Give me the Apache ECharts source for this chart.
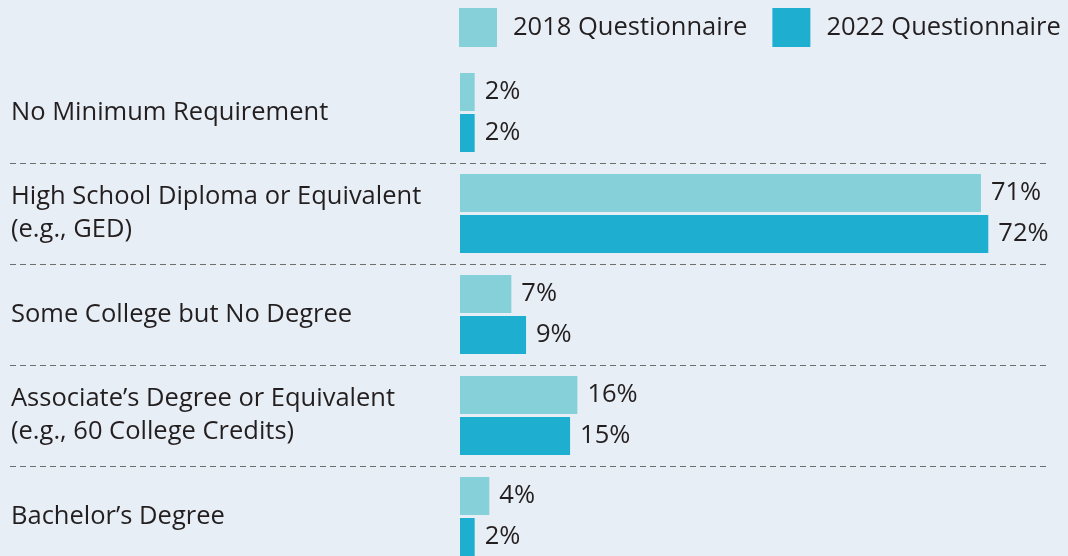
<!DOCTYPE html>
<html>
<head>
<meta charset="utf-8">
<script src="https://cdn.jsdelivr.net/npm/echarts@6/dist/echarts.min.js"></script>
<style>
html,body{margin:0;padding:0;background:#e8eef5;}
#chart{width:1068px;height:556px;}
</style>
</head>
<body>
<div id="chart"></div>
<script>
const categories = [
  "No Minimum Requirement",
  "High School Diploma or Equivalent\n(e.g., GED)",
  "Some College but No Degree",
  "Associate’s Degree or Equivalent\n(e.g., 60 College Credits)",
  "Bachelor’s Degree"
];
const seriesNames = ["2018 Questionnaire", "2022 Questionnaire"];
const values2018 = [2, 71, 7, 16, 4];
const values2022 = [2, 72, 9, 15, 2];

const FONT = "Open Sans";
const FS = 25.5;
const TEXT = "#231f20";
const colors = ["#86d1d9", "#1eafd0"];

const chart = echarts.init(document.getElementById('chart'));
const labelCfg = {
  show: true,
  position: 'right',
  distance: 10,
  formatter: p => p.value + '%',
  color: TEXT,
  fontFamily: FONT,
  fontSize: FS
};
chart.setOption({
  backgroundColor: '#e8eef5',
  animation: false,
  legend: {
    top: 3,
    left: 454,
    itemWidth: 38,
    itemHeight: 39,
    itemGap: 25,
    icon: 'rect',
    data: seriesNames,
    textStyle: { color: TEXT, fontFamily: FONT, fontSize: FS, padding: [0, 0, 0, 11] }
  },
  grid: [
    { left: 460, right: 21, top: 62, height: 505, containLabel: false, outerBoundsMode: 'none' },
    { left: 10, right: 20, top: 62, height: 505, containLabel: false, outerBoundsMode: 'none' }
  ],
  xAxis: [
    { type: 'value', gridIndex: 0, min: 0, max: 80, show: false },
    { type: 'value', gridIndex: 1, min: 0, max: 1, show: false }
  ],
  yAxis: [
    {
      type: 'category', gridIndex: 0, data: categories, inverse: true,
      axisLine: { show: false }, axisTick: { show: false }, splitLine: { show: false },
      axisLabel: {
        align: 'left', margin: 449, color: TEXT, fontFamily: FONT, fontSize: FS, lineHeight: 33
      }
    },
    {
      type: 'value', gridIndex: 1, min: 0, max: 5, interval: 1, inverse: true,
      axisLine: { show: false }, axisTick: { show: false }, axisLabel: { show: false },
      splitLine: { show: true, showMinLine: false, showMaxLine: false,
        lineStyle: { color: '#6f6f6f', width: 1, type: [6, 4] } }
    }
  ],
  series: [
    { name: seriesNames[0], type: 'bar', xAxisIndex: 0, yAxisIndex: 0, data: values2018,
      barWidth: 38, barGap: '8%', itemStyle: { color: colors[0] }, label: labelCfg },
    { name: seriesNames[1], type: 'bar', xAxisIndex: 0, yAxisIndex: 0, data: values2022,
      barWidth: 38, barGap: '8%', itemStyle: { color: colors[1] }, label: labelCfg }
  ]
});
</script>
</body>
</html>
